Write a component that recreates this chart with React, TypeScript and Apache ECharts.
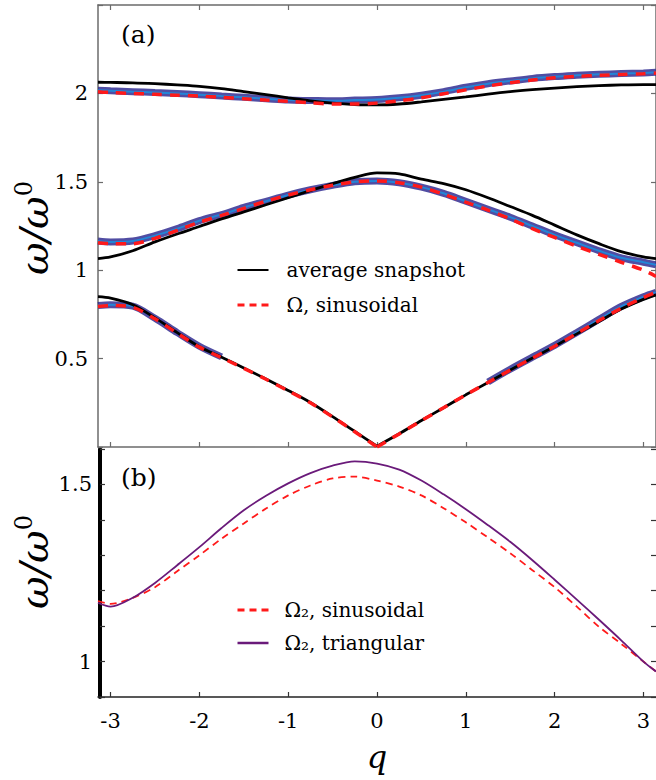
import React, { useEffect, useRef } from "react";
import * as echarts from "echarts";

// wave-number grid (q from -pi to pi)
const Q = [-3.1416, -3, -2.75, -2.5, -2.25, -2, -1.75, -1.5, -1.25, -1, -0.75, -0.5, -0.25, 0, 0.25, 0.5, 0.75, 1, 1.25, 1.5, 1.75, 2, 2.25, 2.5, 2.75, 3, 3.1416];
const X_TICKS = [-3, -2, -1, 0, 1, 2, 3];

// panel (a): average snapshot (black)
const avgBand1 = [0.85, 0.842, 0.805, 0.73, 0.647, 0.567, 0.508, 0.447, 0.385, 0.32, 0.252, 0.172, 0.088, 0.005, 0.075, 0.15, 0.222, 0.295, 0.365, 0.435, 0.503, 0.57, 0.64, 0.71, 0.78, 0.835, 0.86];
const avgBand2 = [1.066, 1.075, 1.11, 1.16, 1.205, 1.247, 1.29, 1.33, 1.37, 1.41, 1.45, 1.49, 1.525, 1.55, 1.545, 1.515, 1.49, 1.455, 1.41, 1.36, 1.31, 1.255, 1.2, 1.15, 1.105, 1.075, 1.065];
const avgBand3 = [2.063, 2.062, 2.06, 2.055, 2.048, 2.04, 2.027, 2.01, 1.993, 1.975, 1.958, 1.945, 1.937, 1.935, 1.94, 1.952, 1.966, 1.98, 1.996, 2.01, 2.021, 2.03, 2.038, 2.044, 2.048, 2.05, 2.05];
// panel (a): Omega, sinusoidal (red dashed)
const omBand1 = [0.795, 0.8, 0.79, 0.725, 0.644, 0.565, 0.505, 0.445, 0.383, 0.318, 0.25, 0.17, 0.086, 0.0, 0.074, 0.149, 0.222, 0.295, 0.365, 0.435, 0.503, 0.57, 0.642, 0.715, 0.785, 0.845, 0.875];
const omBand2 = [1.155, 1.15, 1.15, 1.18, 1.225, 1.272, 1.31, 1.35, 1.39, 1.425, 1.455, 1.48, 1.5, 1.505, 1.495, 1.47, 1.43, 1.385, 1.34, 1.29, 1.235, 1.185, 1.135, 1.09, 1.045, 1.0, 0.965];
const omBand3 = [2.01, 2.005, 2.0, 1.995, 1.99, 1.985, 1.978, 1.97, 1.962, 1.955, 1.947, 1.94, 1.94, 1.945, 1.958, 1.975, 1.998, 2.02, 2.042, 2.06, 2.076, 2.088, 2.096, 2.102, 2.107, 2.111, 2.115];
// panel (a): spectral density ridge (blue)
const specBand1 = [0.8, 0.805, 0.797, 0.728, 0.647, 0.57, 0.51, null, null, null, null, null, null, null, null, null, null, null, 0.368, 0.44, 0.508, 0.575, 0.648, 0.722, 0.795, 0.85, 0.875];
const specBand2 = [1.165, 1.16, 1.165, 1.195, 1.235, 1.28, 1.315, 1.355, 1.39, 1.425, 1.455, 1.48, 1.5, 1.505, 1.495, 1.47, 1.435, 1.39, 1.345, 1.3, 1.25, 1.2, 1.155, 1.11, 1.07, 1.045, 1.03];
const specBand3 = [2.018, 2.015, 2.01, 2.005, 2.0, 1.993, 1.985, 1.978, 1.97, 1.962, 1.96, 1.958, 1.962, 1.965, 1.975, 1.99, 2.01, 2.035, 2.055, 2.07, 2.085, 2.095, 2.102, 2.108, 2.112, 2.116, 2.12];

// panel (b)
const om2Sinusoidal = [1.171, 1.163, 1.18, 1.21, 1.255, 1.3, 1.347, 1.39, 1.432, 1.469, 1.497, 1.517, 1.522, 1.511, 1.494, 1.469, 1.433, 1.393, 1.35, 1.306, 1.258, 1.21, 1.155, 1.098, 1.05, 1.0, 0.972];
const om2Triangular = [1.166, 1.155, 1.18, 1.222, 1.272, 1.323, 1.377, 1.427, 1.468, 1.503, 1.532, 1.553, 1.565, 1.559, 1.542, 1.511, 1.472, 1.43, 1.385, 1.338, 1.286, 1.231, 1.175, 1.118, 1.06, 1.0, 0.972];

const SERIF = "DejaVu Serif";
const RED = "#ff1a1a";
const GRAY = "#6b6b6b";

const pts = (arr: (number | null)[]) => Q.map((q, i) => [q, arr[i]]);
// split at q = 0 so the cusp of the acoustic branch stays sharp
const cuspPts = (arr: (number | null)[]) => {
  const all = pts(arr);
  const left = all.filter((p) => (p[0] as number) <= 0);
  const right = all.filter((p) => (p[0] as number) >= 0);
  return [...left, [0, null], ...right];
};

export default function App() {
  const ref = useRef<HTMLDivElement>(null);
  useEffect(() => {
    document.body.style.margin = "0";
    const chart = echarts.init(ref.current!, null, { renderer: "svg" });

    const specSeries = (arr: (number | null)[]) => [
      {
        type: "line", xAxisIndex: 0, yAxisIndex: 0, data: pts(arr), smooth: 0.3, symbol: "none", silent: true,
        connectNulls: false, lineStyle: { color: "rgba(38,32,140,0.8)", width: 7 }, z: 1,
      },
      {
        type: "line", xAxisIndex: 0, yAxisIndex: 0, data: pts(arr), smooth: 0.3, symbol: "none", silent: true,
        connectNulls: false, lineStyle: { color: "rgba(30,140,220,0.9)", width: 2 }, z: 1,
      },
    ];
    const avgSeries = (data: any[]) => ({
      name: "average snapshot", type: "line", xAxisIndex: 0, yAxisIndex: 0, data, smooth: 0.3,
      connectNulls: false, symbol: "none", lineStyle: { color: "#000", width: 2.8 }, itemStyle: { color: "#000" }, z: 3,
    });
    const omSeries = (data: any[]) => ({
      name: "Ω, sinusoidal", type: "line", xAxisIndex: 0, yAxisIndex: 0, data, smooth: 0.3,
      connectNulls: false, symbol: "none", lineStyle: { color: RED, width: 3.5, type: [10, 8] }, itemStyle: { color: RED }, z: 4,
    });

    const tickStyleA = { show: true, inside: true, length: 5, lineStyle: { color: GRAY, width: 1.2 } };
    const tickStyleB = { show: true, inside: true, length: 5, lineStyle: { color: "#333", width: 1.2 } };
    const lineA = { show: true, onZero: false, lineStyle: { color: GRAY, width: 1.5 } };

    const legendCommon = {
      orient: "vertical", left: 236, padding: 0, itemWidth: 31, itemHeight: 14, selectedMode: false,
      itemStyle: { color: "rgba(0,0,0,0)", borderColor: "rgba(0,0,0,0)", borderWidth: 0 },
    };

    chart.setOption({
      animation: false,
      grid: [
        { left: 98, top: 5, width: 559, height: 442 },
        { left: 98, top: 449, width: 559, height: 248 },
      ],
      xAxis: [
        {
          type: "value", gridIndex: 0, position: "bottom", min: -3.1416, max: 3.1416,
          axisLine: lineA, axisTick: { ...tickStyleA, customValues: X_TICKS },
          axisLabel: { show: false }, splitLine: { show: false },
        },
        {
          type: "value", gridIndex: 0, position: "top", min: -3.1416, max: 3.1416,
          axisLine: lineA, axisTick: { ...tickStyleA, customValues: X_TICKS },
          axisLabel: { show: false }, splitLine: { show: false },
        },
        {
          type: "value", gridIndex: 1, position: "bottom", min: -3.1416, max: 3.1416,
          axisLine: { show: true, onZero: false, lineStyle: { color: "#222", width: 1.5 } },
          axisTick: { ...tickStyleB, customValues: X_TICKS },
          axisLabel: {
            customValues: X_TICKS, margin: 13, color: "#000", fontFamily: SERIF, fontSize: 21,
            formatter: (v: number) => String(Math.round(v)),
          },
          splitLine: { show: false },
          name: "q", nameLocation: "middle", nameGap: 44,
          nameTextStyle: { fontFamily: SERIF, fontStyle: "italic", fontSize: 32, color: "#000" },
        },
      ],
      yAxis: [
        {
          type: "value", gridIndex: 0, position: "left", min: 0, max: 2.5, interval: 0.5,
          axisLine: lineA, axisTick: tickStyleA,
          axisLabel: {
            margin: 10, color: "#000", fontFamily: SERIF, fontSize: 21,
            formatter: (v: number) => (v < 0.01 || v > 2.4 ? "" : String(v)),
          },
          splitLine: { show: false },
        },
        {
          type: "value", gridIndex: 0, position: "right", min: 0, max: 2.5, interval: 0.5,
          axisLine: lineA, axisTick: tickStyleA, axisLabel: { show: false }, splitLine: { show: false },
        },
        {
          type: "value", gridIndex: 1, position: "left", min: 0.9, max: 1.6, interval: 0.1, offset: -2,
          axisLine: { show: true, onZero: false, lineStyle: { color: "#000", width: 4 } },
          axisTick: tickStyleB,
          axisLabel: {
            margin: 8, color: "#000", fontFamily: SERIF, fontSize: 21,
            formatter: (v: number) => (Math.abs(v - 1) < 1e-6 ? "1" : Math.abs(v - 1.5) < 1e-6 ? "1.5" : ""),
          },
          splitLine: { show: false },
        },
        {
          type: "value", gridIndex: 1, position: "right", min: 0.9, max: 1.6, interval: 0.1,
          axisLine: { show: false, onZero: false },
          axisTick: tickStyleB, axisLabel: { show: false }, splitLine: { show: false },
        },
      ],
      legend: [
        {
          ...legendCommon,
          data: [
            { name: "average snapshot" },
            { name: "Ω, sinusoidal", lineStyle: { type: [7, 5], width: 3 } },
          ],
          top: 260, itemGap: 15,
          textStyle: { fontFamily: SERIF, fontSize: 20, color: "#000", lineHeight: 20, padding: [0, 0, 0, 13] },
        },
        {
          ...legendCommon,
          data: [
            { name: "Ω₂, sinusoidal", lineStyle: { type: [7, 5], width: 3 } },
            { name: "Ω₂, triangular", lineStyle: { width: 2.5 } },
          ],
          top: 600, itemGap: 13,
          textStyle: { fontFamily: SERIF, fontSize: 20, color: "#000", lineHeight: 20, padding: [0, 0, 0, 11] },
        },
      ],
      graphic: [
        { type: "text", x: 121, y: 22, style: { text: "(a)", fontFamily: SERIF, fontSize: 25, fill: "#000" } },
        { type: "text", x: 121, y: 465, style: { text: "(b)", fontFamily: SERIF, fontSize: 25, fill: "#000" } },
        {
          type: "text", x: 34, y: 228, rotation: Math.PI / 2,
          style: {
            text: "{w|ω/ω}{s|0}", align: "center", verticalAlign: "middle",
            rich: {
              w: { fontFamily: SERIF, fontStyle: "italic", fontSize: 40, fill: "#000", lineHeight: 44 },
              s: { fontFamily: SERIF, fontSize: 24, fill: "#000", verticalAlign: "top", lineHeight: 44 },
            },
          },
        },
        {
          type: "text", x: 34, y: 562, rotation: Math.PI / 2,
          style: {
            text: "{w|ω/ω}{s|0}", align: "center", verticalAlign: "middle",
            rich: {
              w: { fontFamily: SERIF, fontStyle: "italic", fontSize: 40, fill: "#000", lineHeight: 44 },
              s: { fontFamily: SERIF, fontSize: 24, fill: "#000", verticalAlign: "top", lineHeight: 44 },
            },
          },
        },
      ],
      series: [
        ...specSeries(specBand1),
        ...specSeries(specBand2),
        ...specSeries(specBand3),
        avgSeries(cuspPts(avgBand1)),
        avgSeries(pts(avgBand2)),
        avgSeries(pts(avgBand3)),
        omSeries(cuspPts(omBand1)),
        omSeries(pts(omBand2)),
        omSeries(pts(omBand3)),
        {
          name: "Ω₂, sinusoidal", type: "line", xAxisIndex: 2, yAxisIndex: 2, data: pts(om2Sinusoidal), smooth: 0.3,
          symbol: "none", lineStyle: { color: RED, width: 1.8, type: [7, 5] }, itemStyle: { color: RED },
        },
        {
          name: "Ω₂, triangular", type: "line", xAxisIndex: 2, yAxisIndex: 2, data: pts(om2Triangular), smooth: 0.3,
          symbol: "none", lineStyle: { color: "#6a1a7a", width: 1.8 }, itemStyle: { color: "#6a1a7a" },
        },
      ],
    });
    return () => chart.dispose();
  }, []);
  return <div ref={ref} style={{ width: 656, height: 780 }} />;
}
